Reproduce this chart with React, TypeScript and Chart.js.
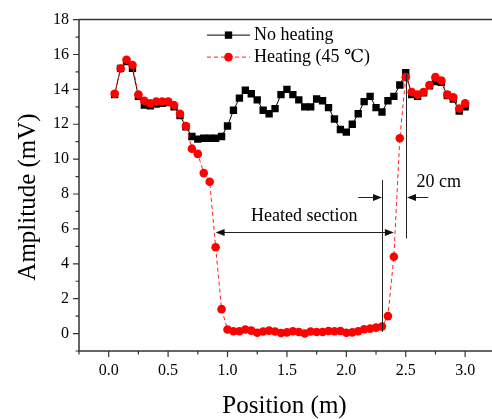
import React, { useEffect, useRef } from "react";
import { Chart, registerables } from "chart.js";
Chart.register(...registerables);

const positions = [
  0.05, 0.1, 0.15, 0.2, 0.25, 0.3, 0.35, 0.4, 0.45, 0.5,
  0.55, 0.6, 0.65, 0.7, 0.75, 0.8, 0.85, 0.9, 0.95, 1.0,
  1.05, 1.1, 1.15, 1.2, 1.25, 1.3, 1.35, 1.4, 1.45, 1.5,
  1.55, 1.6, 1.65, 1.7, 1.75, 1.8, 1.85, 1.9, 1.95, 2.0,
  2.05, 2.1, 2.15, 2.2, 2.25, 2.3, 2.35, 2.4, 2.45, 2.5,
  2.55, 2.6, 2.65, 2.7, 2.75, 2.8, 2.85, 2.9, 2.95, 3.0,
];

const noHeating = [
  13.7, 15.2, 15.6, 15.2, 13.6, 13.1, 13.05, 13.15, 13.2, 13.25,
  13.0, 12.5, 11.85, 11.3, 11.15, 11.2, 11.2, 11.2, 11.3, 11.9,
  12.8, 13.5, 13.95, 13.75, 13.4, 12.8, 12.6, 12.9, 13.7, 14.0,
  13.7, 13.4, 13.0, 13.0, 13.45, 13.35, 12.95, 12.3, 11.7, 11.55,
  12.0, 12.6, 13.3, 13.6, 12.95, 12.7, 13.35, 13.6, 14.25, 14.95,
  13.7, 13.6, 13.8, 14.2, 14.45, 14.4, 13.65, 13.45, 12.75, 13.0,
];

const heating = [
  13.75, 15.2, 15.7, 15.4, 13.7, 13.35, 13.2, 13.3, 13.3, 13.3,
  13.1, 12.6, 11.9, 10.6, 10.3, 9.2, 8.7, 4.95, 1.4, 0.23,
  0.13, 0.13, 0.23, 0.17, 0.05, 0.12, 0.17, 0.12, 0.03, 0.07,
  0.13, 0.09, 0.0, 0.12, 0.09, 0.09, 0.15, 0.13, 0.15, 0.05,
  0.07, 0.13, 0.25, 0.28, 0.34, 0.4, 1.0, 4.4, 11.2, 14.7,
  13.85, 13.7, 13.85, 14.25, 14.7, 14.5, 13.7, 13.55, 12.9, 13.2,
];

const xTicks = [-0.25, 0, 0.25, 0.5, 0.75, 1.0, 1.25, 1.5, 1.75, 2.0, 2.25, 2.5, 2.75, 3.0];
const yTicks = [-1, 0, 1, 2, 3, 4, 5, 6, 7, 8, 9, 10, 11, 12, 13, 14, 15, 16, 17, 18];

const seriesNames = ["No heating", "Heating (45 \u2103)"];
const xTitle = "Position (m)";
const yTitle = "Amplitude (mV)";

// annotation values (data units)
const boundaryLines = [
  { x: 2.3, y0: 0.1, y1: 8.8 },
  { x: 2.5, y0: 5.45, y1: 14.9 },
];
const heatedArrow = { x0: 0.9, x1: 2.4, y: 5.8 };
const heatedLabel = { text: "Heated section", x: 1.645, y: 6.48 };
const spanArrows = { y: 7.85, leftFrom: 2.1, leftTo: 2.3, rightFrom: 2.69, rightTo: 2.5 };
const spanLabel = { text: "20 cm", x: 2.59, y: 8.4 };

const SERIF = '"Liberation Serif", "Times New Roman", "DejaVu Serif", serif';
const AXIS = "#333";

function arrowHead(ctx: CanvasRenderingContext2D, x: number, y: number, dir: number) {
  ctx.beginPath();
  ctx.moveTo(x, y);
  ctx.lineTo(x - dir * 9, y - 3.5);
  ctx.lineTo(x - dir * 9, y + 3.5);
  ctx.closePath();
  ctx.fill();
}

const framePlugin = {
  id: "framePlugin",
  afterDraw(chart: any) {
    const { ctx, chartArea } = chart;
    const { left, top, right, bottom } = chartArea;
    const xs = chart.scales.x;
    const ys = chart.scales.y;
    ctx.save();
    // frame
    ctx.strokeStyle = AXIS;
    ctx.lineWidth = 1.5;
    ctx.beginPath();
    ctx.moveTo(left, top);
    ctx.lineTo(right, top);
    ctx.moveTo(left, top);
    ctx.lineTo(left, bottom);
    ctx.lineTo(right, bottom);
    ctx.stroke();
    // ticks
    ctx.lineWidth = 1.2;
    ctx.beginPath();
    xTicks.forEach((v) => {
      const px = xs.getPixelForValue(v);
      const major = Math.abs(v * 2 - Math.round(v * 2)) < 1e-6;
      ctx.moveTo(px, bottom);
      ctx.lineTo(px, bottom + (major ? 6 : 3.5));
    });
    yTicks.forEach((v) => {
      const py = ys.getPixelForValue(v);
      const major = v % 2 === 0;
      ctx.moveTo(left, py);
      ctx.lineTo(left - (major ? 6 : 3.5), py);
    });
    ctx.stroke();

    // axis titles
    ctx.fillStyle = "#000";
    ctx.font = `25px ${SERIF}`;
    ctx.textAlign = "center";
    ctx.textBaseline = "alphabetic";
    ctx.fillText(xTitle, (left + 492) / 2 - 1, 413);
    ctx.save();
    ctx.translate(35, 197);
    ctx.rotate(-Math.PI / 2);
    ctx.fillText(yTitle, 0, 0);
    ctx.restore();

    // annotations
    ctx.strokeStyle = "#222";
    ctx.fillStyle = "#111";
    ctx.lineWidth = 1;
    ctx.beginPath();
    boundaryLines.forEach((b) => {
      const px = Math.round(xs.getPixelForValue(b.x)) + 0.5;
      ctx.moveTo(px, ys.getPixelForValue(b.y0));
      ctx.lineTo(px, ys.getPixelForValue(b.y1));
    });
    const hy = Math.round(ys.getPixelForValue(heatedArrow.y)) + 0.5;
    const hx0 = xs.getPixelForValue(heatedArrow.x0);
    const hx1 = xs.getPixelForValue(heatedArrow.x1);
    ctx.moveTo(hx0 + 4, hy);
    ctx.lineTo(hx1 - 4, hy);
    const sy = Math.round(ys.getPixelForValue(spanArrows.y)) + 0.5;
    const lf = xs.getPixelForValue(spanArrows.leftFrom);
    const lt = Math.round(xs.getPixelForValue(spanArrows.leftTo));
    const rf = xs.getPixelForValue(spanArrows.rightFrom);
    const rt = Math.round(xs.getPixelForValue(spanArrows.rightTo)) + 1;
    ctx.moveTo(lf, sy);
    ctx.lineTo(lt - 4, sy);
    ctx.moveTo(rf, sy);
    ctx.lineTo(rt + 4, sy);
    ctx.stroke();
    arrowHead(ctx, hx0, hy, -1);
    arrowHead(ctx, hx1, hy, 1);
    arrowHead(ctx, lt, sy, 1);
    arrowHead(ctx, rt, sy, -1);

    ctx.fillStyle = "#000";
    ctx.font = `18px ${SERIF}`;
    ctx.textBaseline = "alphabetic";
    ctx.textAlign = "center";
    ctx.fillText(heatedLabel.text, xs.getPixelForValue(heatedLabel.x), ys.getPixelForValue(heatedLabel.y));
    ctx.textAlign = "left";
    ctx.fillText(spanLabel.text, xs.getPixelForValue(spanLabel.x), ys.getPixelForValue(spanLabel.y));

    // legend
    const ds = chart.data.datasets;
    const order = [1, 0];
    order.forEach((di, row) => {
      const d = ds[di];
      const cy = top + 15 + row * 22;
      const lx0 = left + 128;
      const lx1 = left + 171;
      ctx.strokeStyle = d.borderColor;
      ctx.lineWidth = 1;
      ctx.setLineDash(d.borderDash || []);
      ctx.beginPath();
      ctx.moveTo(lx0, cy + 0.5);
      ctx.lineTo(lx1, cy + 0.5);
      ctx.stroke();
      ctx.setLineDash([]);
      ctx.fillStyle = d.pointBackgroundColor;
      const mx = (lx0 + lx1) / 2;
      if (d.pointStyle === "rect") {
        const s = d.pointRadius * Math.SQRT1_2;
        ctx.fillRect(mx - s, cy + 0.5 - s, 2 * s, 2 * s);
      } else {
        ctx.beginPath();
        ctx.arc(mx, cy + 0.5, d.pointRadius, 0, Math.PI * 2);
        ctx.fill();
      }
      ctx.fillStyle = "#000";
      ctx.font = `18px ${SERIF}`;
      ctx.textAlign = "left";
      ctx.textBaseline = "middle";
      ctx.fillText(d.label, lx1 + 4, cy + 1);
    });
    ctx.restore();
  },
};

export default function App() {
  const ref = useRef<HTMLCanvasElement | null>(null);
  useEffect(() => {
    document.body.style.margin = "0";
    document.body.style.overflow = "hidden";
    const canvas = ref.current;
    if (!canvas) return;
    const chart = new Chart(canvas, {
      type: "line",
      data: {
        datasets: [
          {
            label: seriesNames[1],
            data: positions.map((x, i) => ({ x, y: heating[i] })),
            borderColor: "#ff2020",
            borderWidth: 1,
            borderDash: [4, 3],
            pointStyle: "circle",
            pointRadius: 4.3,
            pointBackgroundColor: "#ff0000",
            pointBorderWidth: 0,
            tension: 0,
          },
          {
            label: seriesNames[0],
            data: positions.map((x, i) => ({ x, y: noHeating[i] })),
            borderColor: "#000",
            borderWidth: 1,
            pointStyle: "rect",
            pointRadius: 5.2,
            pointBackgroundColor: "#000",
            pointBorderWidth: 0,
            tension: 0,
          },
        ],
      },
      options: {
        responsive: false,
        animation: false,
        devicePixelRatio: 1,
        layout: { autoPadding: false, padding: { top: 16, left: 0, right: 0, bottom: 0 } },
        plugins: { legend: { display: false }, tooltip: { enabled: false } },
        scales: {
          x: {
            type: "linear",
            min: -0.25,
            max: 3.226,
            afterBuildTicks: (s: any) => {
              s.ticks = xTicks.map((v) => ({ value: v }));
            },
            afterFit: (s: any) => {
              s.height = 68;
            },
            grid: { display: false, drawTicks: false },
            border: { display: false },
            ticks: {
              padding: 10,
              color: "#000",
              font: { family: SERIF, size: 16 },
              maxRotation: 0,
              autoSkip: false,
              callback: (v: any) => {
                const n = Number(v);
                return n >= 0 && Math.abs(n * 2 - Math.round(n * 2)) < 1e-6 ? n.toFixed(1) : "";
              },
            },
            title: { display: false },
          },
          y: {
            type: "linear",
            min: -1,
            max: 18,
            afterBuildTicks: (s: any) => {
              s.ticks = yTicks.map((v) => ({ value: v }));
            },
            afterFit: (s: any) => {
              s.width = 79;
            },
            grid: { display: false, drawTicks: false },
            border: { display: false },
            ticks: {
              padding: 10,
              color: "#000",
              font: { family: SERIF, size: 16 },
              autoSkip: false,
              callback: (v: any) => {
                const n = Number(v);
                return n >= 0 && n % 2 === 0 ? String(n) : "";
              },
            },
            title: { display: false },
          },
        },
      },
      plugins: [framePlugin],
    } as any);
    return () => chart.destroy();
  }, []);
  return (
    <div style={{ width: 492, height: 419 }}>
      <canvas ref={ref} width={492} height={419} style={{ display: "block" }} />
    </div>
  );
}
